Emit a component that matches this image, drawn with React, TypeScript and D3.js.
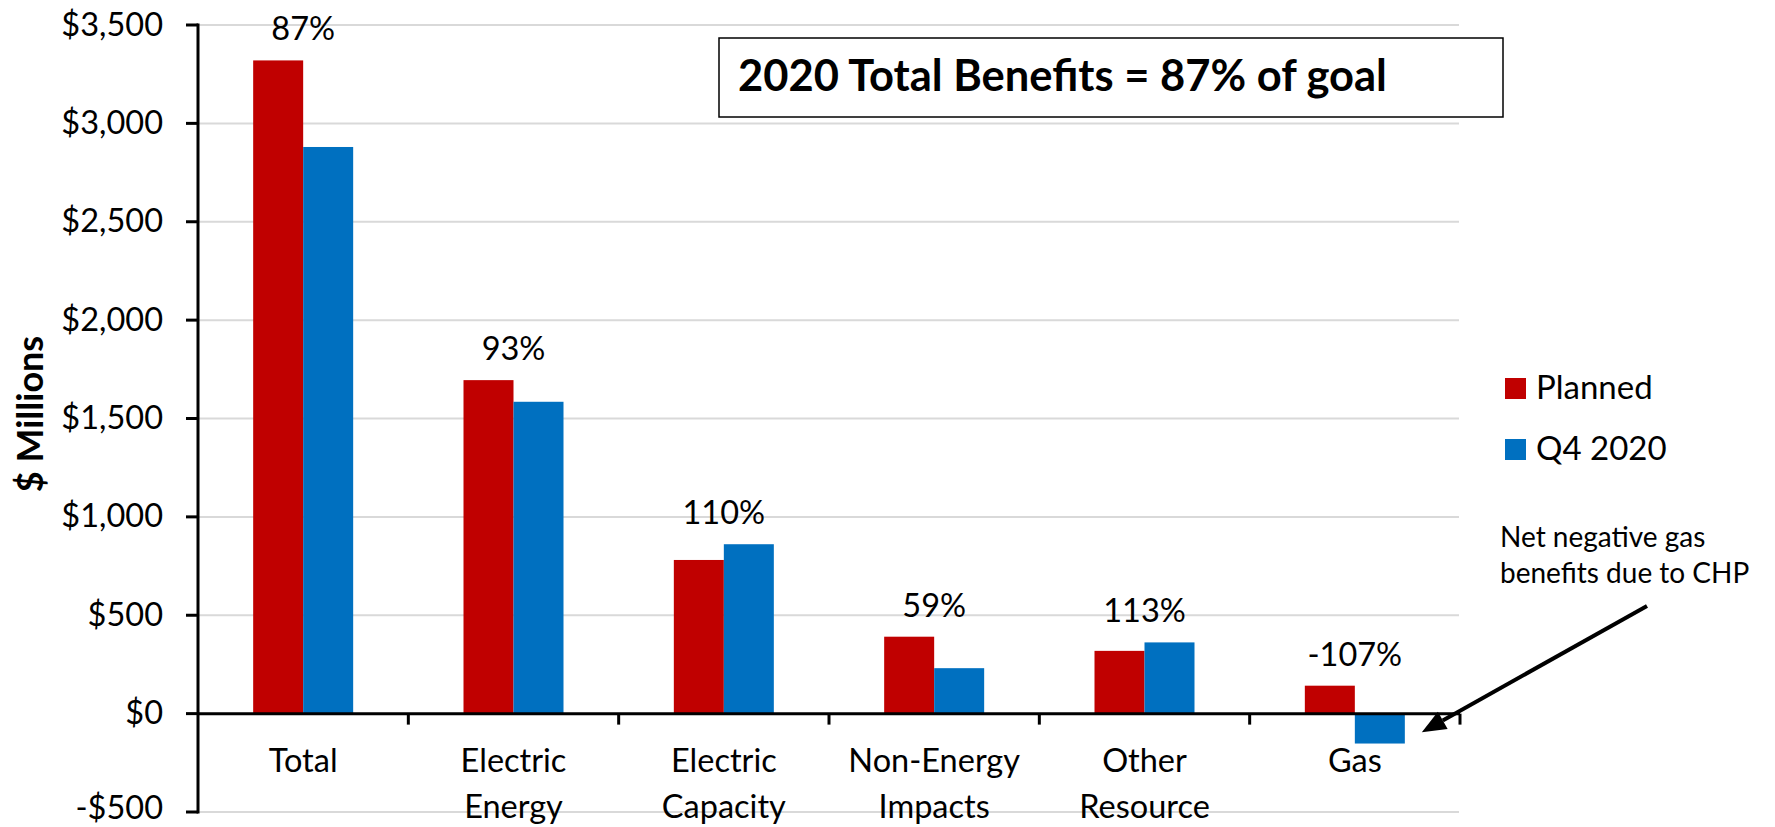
import React from "react";
import * as d3 from "d3";

// ---- data ----
const categories = ["Total", "Electric Energy", "Electric Capacity", "Non-Energy Impacts", "Other Resource", "Gas"];
const seriesNames = ["Planned", "Q4 2020"];
const planned = [3320, 1695, 781, 391, 319, 142];
const q4_2020 = [2880, 1585, 861, 231, 362, -152];
const pctLabels = ["87%", "93%", "110%", "59%", "113%", "-107%"];
const yTicks = [-500, 0, 500, 1000, 1500, 2000, 2500, 3000, 3500];
const seriesColors = ["#C00000", "#0070C0"];
const titleText = "2020 Total Benefits = 87% of goal";
const yAxisTitle = "$ Millions";
const noteLines = ["Net negative gas", "benefits due to CHP"];

const W = 1775;
const H = 827;
const FONT = 'Lato, "Open Sans", sans-serif';

export default function App() {
  const left = 198;
  const right = 1460;
  const y = d3.scaleLinear().domain([-500, 3500]).range([812, 25]);
  const x0 = d3.scaleBand<string>().domain(categories).range([left, right]).padding(0);
  const groupW = 100;
  const x1 = d3.scaleBand<string>().domain(seriesNames).range([0, groupW]).padding(0);
  const values = [planned, q4_2020];
  const fmt = d3.format(",");
  const tickLabel = (v: number) => (v < 0 ? "-$" + fmt(-v) : "$" + fmt(v));
  const y0 = y(0);
  const bw = x0.bandwidth();

  // annotation arrow: tip just right of the gas Q4 bar
  const gasIdx = categories.length - 1;
  const gasBarRight = (x0(categories[gasIdx]) as number) + bw / 2 - groupW / 2 + groupW;
  const tip: [number, number] = [gasBarRight + 17, y0 + 18.5];
  const noteX = 1500;
  const noteBase = 547;
  const start: [number, number] = [noteX + 147, noteBase + 36 + 23];
  const dx = tip[0] - start[0];
  const dy = tip[1] - start[1];
  const len = Math.hypot(dx, dy);
  const ux = dx / len;
  const uy = dy / len;
  const headL = 24;
  const headHW = 10;
  const bx = tip[0] - ux * headL;
  const by = tip[1] - uy * headL;
  const head = [
    [tip[0], tip[1]],
    [bx - uy * headHW, by + ux * headHW],
    [bx + uy * headHW, by - ux * headHW],
  ];

  return (
    <svg
      width={W}
      height={H}
      style={{ position: "absolute", left: 0, top: 0, background: "#fff" }}
      fontFamily={FONT}
    >
      <rect x={0} y={0} width={W} height={H} fill="#fff" />
      {/* gridlines */}
      {yTicks.map((t) => (
        <line key={"g" + t} x1={left} x2={right - 1} y1={y(t)} y2={y(t)} stroke="#D9D9D9" strokeWidth={2} />
      ))}
      {/* bars */}
      {categories.map((c, i) => {
        const gx = (x0(c) as number) + bw / 2 - groupW / 2;
        return seriesNames.map((s, si) => {
          const v = values[si][i];
          return (
            <rect
              key={c + s}
              x={gx + (x1(s) as number)}
              width={x1.bandwidth()}
              y={Math.min(y(v), y0)}
              height={Math.abs(y(v) - y0)}
              fill={seriesColors[si]}
            />
          );
        });
      })}
      {/* percent labels */}
      {categories.map((c, i) => (
        <text
          key={"p" + c}
          x={(x0(c) as number) + bw / 2}
          y={y(Math.max(planned[i], q4_2020[i])) - 20}
          textAnchor="middle"
          fontSize={32.5}
          fill="#000"
        >
          {pctLabels[i]}
        </text>
      ))}
      {/* y axis */}
      <line x1={left} x2={left} y1={y(3500) - 1.5} y2={y(-500) + 1.5} stroke="#000" strokeWidth={3} />
      {yTicks.map((t) => (
        <g key={"t" + t}>
          <line x1={left - 12} x2={left} y1={y(t)} y2={y(t)} stroke="#000" strokeWidth={3} />
          <text x={163} y={Math.min(y(t) + 10.5, H - 8)} textAnchor="end" fontSize={32.5} fill="#000">
            {tickLabel(t)}
          </text>
        </g>
      ))}
      {/* x axis */}
      <line x1={left} x2={right} y1={y0} y2={y0} stroke="#000" strokeWidth={3} />
      {categories.map((c) => (
        <line
          key={"xt" + c}
          x1={(x0(c) as number) + bw}
          x2={(x0(c) as number) + bw}
          y1={y0}
          y2={y0 + 11}
          stroke="#000"
          strokeWidth={3}
        />
      ))}
      {categories.map((c) => (
        <text key={"xl" + c} textAnchor="middle" fontSize={32.5} fill="#000">
          {c.split(" ").map((w, k) => (
            <tspan key={k} x={(x0(c) as number) + bw / 2} y={772 + k * 46}>
              {w}
            </tspan>
          ))}
        </text>
      ))}
      {/* y axis title */}
      <text
        transform={`translate(43,414) rotate(-90)`}
        textAnchor="middle"
        fontSize={36}
        fontWeight="bold"
        fill="#000"
      >
        {yAxisTitle}
      </text>
      {/* title box */}
      <rect x={719} y={38} width={784} height={79} fill="#fff" stroke="#000" strokeWidth={1.5} />
      <text x={738} y={91} fontSize={43.5} fontWeight="bold" fill="#000">
        {titleText}
      </text>
      {/* legend */}
      {seriesNames.map((s, si) => (
        <g key={"lg" + s}>
          <rect x={1505} y={378 + si * 61} width={21} height={21} fill={seriesColors[si]} />
          <text x={1536} y={399 + si * 61} fontSize={33} fill="#000">
            {s}
          </text>
        </g>
      ))}
      {/* annotation */}
      {noteLines.map((l, k) => (
        <text key={"n" + k} x={noteX} y={noteBase + k * 36} fontSize={28} fill="#000">
          {l}
        </text>
      ))}
      <line x1={start[0]} y1={start[1]} x2={bx} y2={by} stroke="#000" strokeWidth={4} />
      <polygon points={head.map((p) => p.join(",")).join(" ")} fill="#000" />
    </svg>
  );
}
